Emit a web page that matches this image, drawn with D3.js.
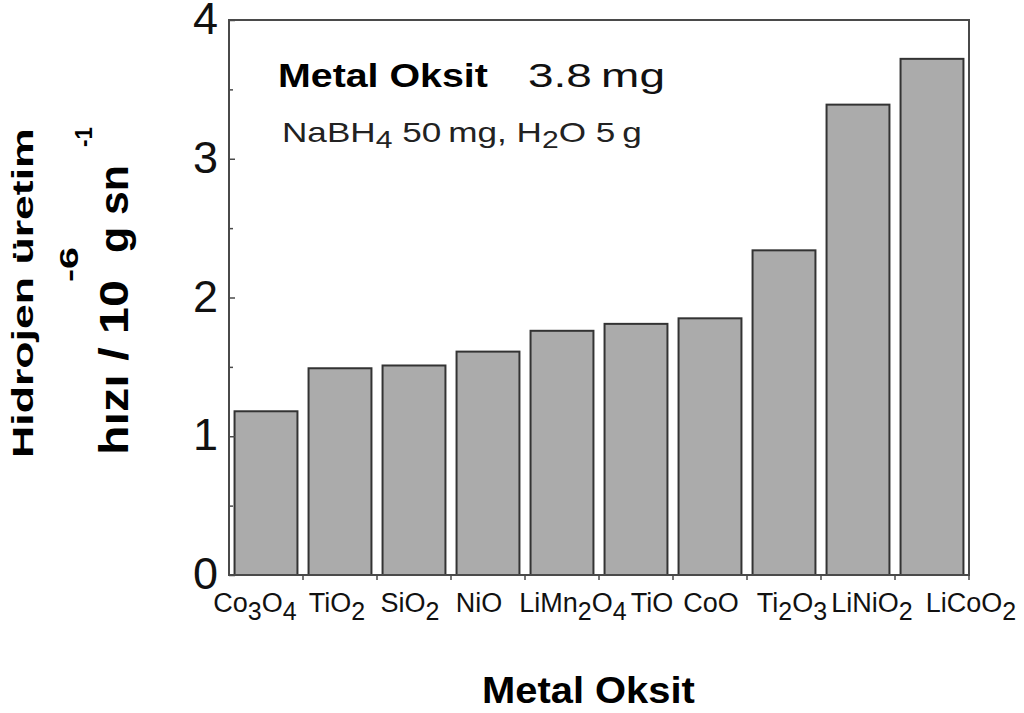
<!DOCTYPE html>
<html>
<head>
<meta charset="utf-8">
<script src="https://cdn.jsdelivr.net/npm/d3@7"></script>
<style>
  body { margin: 0; background: #fff; }
  svg { display: block; font-family: "Liberation Sans", Arial, Helvetica, sans-serif; }
</style>
</head>
<body>
<div class="canvas"></div>
<script>
// data
const oxides = ["Co3O4", "TiO2", "SiO2", "NiO", "LiMn2O4", "TiO", "CoO", "Ti2O3", "LiNiO2", "LiCoO2"];
const rates = [1.18, 1.49, 1.51, 1.61, 1.76, 1.81, 1.85, 2.34, 3.39, 3.72];
const yTicks = [0, 1, 2, 3, 4];
const yMinor = [0.5, 1.5, 2.5, 3.5];

const dims = { width: 1024, height: 713 };
const plot = { left: 229, right: 969, top: 20, bottom: 575 };

// small horizontal nudges so labels sit like the original
const labelNudge = [-11, -3, -4, -9, 11, 16, 1, 8, 14, 39];

const svg = d3.select('.canvas')
  .append('svg')
  .attr('width', dims.width)
  .attr('height', dims.height);

const x = d3.scaleBand()
  .domain(oxides)
  .range([plot.left, plot.right])
  .paddingInner(0.15)
  .paddingOuter(0.075);

const y = d3.scaleLinear()
  .domain([0, 4])
  .range([plot.bottom, plot.top]);

// squeeze/stretch a text to a given length along its own direction
const fitText = (sel, tx, ty, len, rot = 0) => {
  const w = sel.node().getBBox().width;
  sel.attr('transform', `translate(${tx},${ty}) rotate(${rot}) scale(${len / w},1)`);
};

// writes runs of text, "_" marks a subscript run (e.g. "H_2O")
const richText = (sel, parts, size, subSize, shift) => {
  let down = false;
  parts.forEach(([str, isSub]) => {
    const t = sel.append('tspan').text(str);
    if (isSub) {
      t.attr('font-size', subSize).attr('dy', down ? 0 : shift);
    } else {
      t.attr('font-size', size).attr('dy', down ? -shift : 0);
    }
    down = isSub;
  });
};
const formulaParts = str => str.match(/\d+|\D+/g).map(p => [p, /\d/.test(p)]);
const markupParts = str => str.split(/_(\d+)/).map((p, i) => [p, i % 2 === 1]).filter(p => p[0] !== '');

// bars
svg.append('g')
  .selectAll('rect')
  .data(rates)
  .join('rect')
    .attr('x', (d, i) => x(oxides[i]))
    .attr('y', d => y(d))
    .attr('width', x.bandwidth())
    .attr('height', d => y(0) - y(d))
    .attr('fill', '#ababab')
    .attr('stroke', '#333')
    .attr('stroke-width', 2);

// frame
svg.append('rect')
  .attr('x', plot.left)
  .attr('y', plot.top)
  .attr('width', plot.right - plot.left)
  .attr('height', plot.bottom - plot.top)
  .attr('fill', 'none')
  .attr('stroke', '#4a4a4a')
  .attr('stroke-width', 2);

// y ticks, pointing inward
const yIn = svg.append('g')
  .attr('transform', `translate(${plot.left},0)`)
  .call(d3.axisRight(y).tickValues(yTicks).tickSize(6).tickFormat(''));
const yInMinor = svg.append('g')
  .attr('transform', `translate(${plot.left},0)`)
  .call(d3.axisRight(y).tickValues(yMinor).tickSize(4).tickFormat(''));
[yIn, yInMinor].forEach(g => {
  g.select('.domain').remove();
  g.selectAll('line').attr('stroke', '#4a4a4a').attr('stroke-width', 1.5);
});

// y tick labels
const yLab = svg.append('g')
  .attr('transform', `translate(${plot.left},0)`)
  .call(d3.axisLeft(y).tickValues(yTicks).tickSize(0).tickPadding(11).tickFormat(d3.format('d')));
yLab.select('.domain').remove();
yLab.selectAll('text')
  .attr('font-family', '"Liberation Sans", Arial, sans-serif')
  .attr('font-size', 45)
  .attr('dy', '0.3em')
  .attr('fill', '#111');

// x ticks at band boundaries, pointing down
const half = x.step() * x.paddingInner() / 2;
svg.append('g')
  .selectAll('line')
  .data(oxides)
  .join('line')
    .attr('x1', d => x(d) + x.bandwidth() + half)
    .attr('x2', d => x(d) + x.bandwidth() + half)
    .attr('y1', plot.bottom)
    .attr('y2', plot.bottom + 5)
    .attr('stroke', '#4a4a4a')
    .attr('stroke-width', 1.5);

// x category labels
svg.append('g')
  .selectAll('text')
  .data(oxides)
  .join('text')
    .attr('x', (d, i) => x(d) + x.bandwidth() / 2 + labelNudge[i])
    .attr('y', 612)
    .attr('text-anchor', 'middle')
    .attr('fill', '#111')
    .each(function (d) { richText(d3.select(this), formulaParts(d), 27, 25, 8); });

// annotation inside the plot
const title = svg.append('text')
  .attr('font-size', 33)
  .attr('font-weight', 'bold')
  .attr('fill', '#000')
  .text('Metal Oksit');
fitText(title, 278, 87, 210);

const mass = svg.append('text')
  .attr('font-size', 34)
  .attr('fill', '#111')
  .text('3.8\u2009mg');
fitText(mass, 528, 87, 137);

const cond = svg.append('text')
  .attr('fill', '#222');
richText(cond, markupParts('NaBH_4 50\u2009mg, H_2O 5\u2009g'), 28, 24, 6);
fitText(cond, 282, 142, 360);

// x axis title
const xTitle = svg.append('text')
  .attr('font-size', 37)
  .attr('font-weight', 'bold')
  .attr('fill', '#000')
  .text('Metal Oksit');
fitText(xTitle, 482, 703, 213);

// y axis title, two lines, rotated
const yT1 = svg.append('text')
  .attr('font-size', 30)
  .attr('font-weight', 'bold')
  .attr('fill', '#000')
  .text('Hidrojen üretim');
fitText(yT1, 33, 458, 330, -90);

const yT2a = svg.append('text')
  .attr('font-size', 40)
  .attr('font-weight', 'bold')
  .attr('fill', '#000')
  .text('hızı / 10');
fitText(yT2a, 128, 455, 175, -90);

const yT2b = svg.append('text')
  .attr('font-size', 26)
  .attr('font-weight', 'bold')
  .attr('fill', '#000')
  .text('-6');
fitText(yT2b, 78, 282, 35, -90);

const yT2c = svg.append('text')
  .attr('font-size', 40)
  .attr('font-weight', 'bold')
  .attr('fill', '#000')
  .text('g sn');
fitText(yT2c, 128, 253, 88, -90);

const yT2d = svg.append('text')
  .attr('font-size', 24)
  .attr('font-weight', 'bold')
  .attr('fill', '#000')
  .text('-1');
fitText(yT2d, 92, 147, 20, -90);
</script>
</body>
</html>
